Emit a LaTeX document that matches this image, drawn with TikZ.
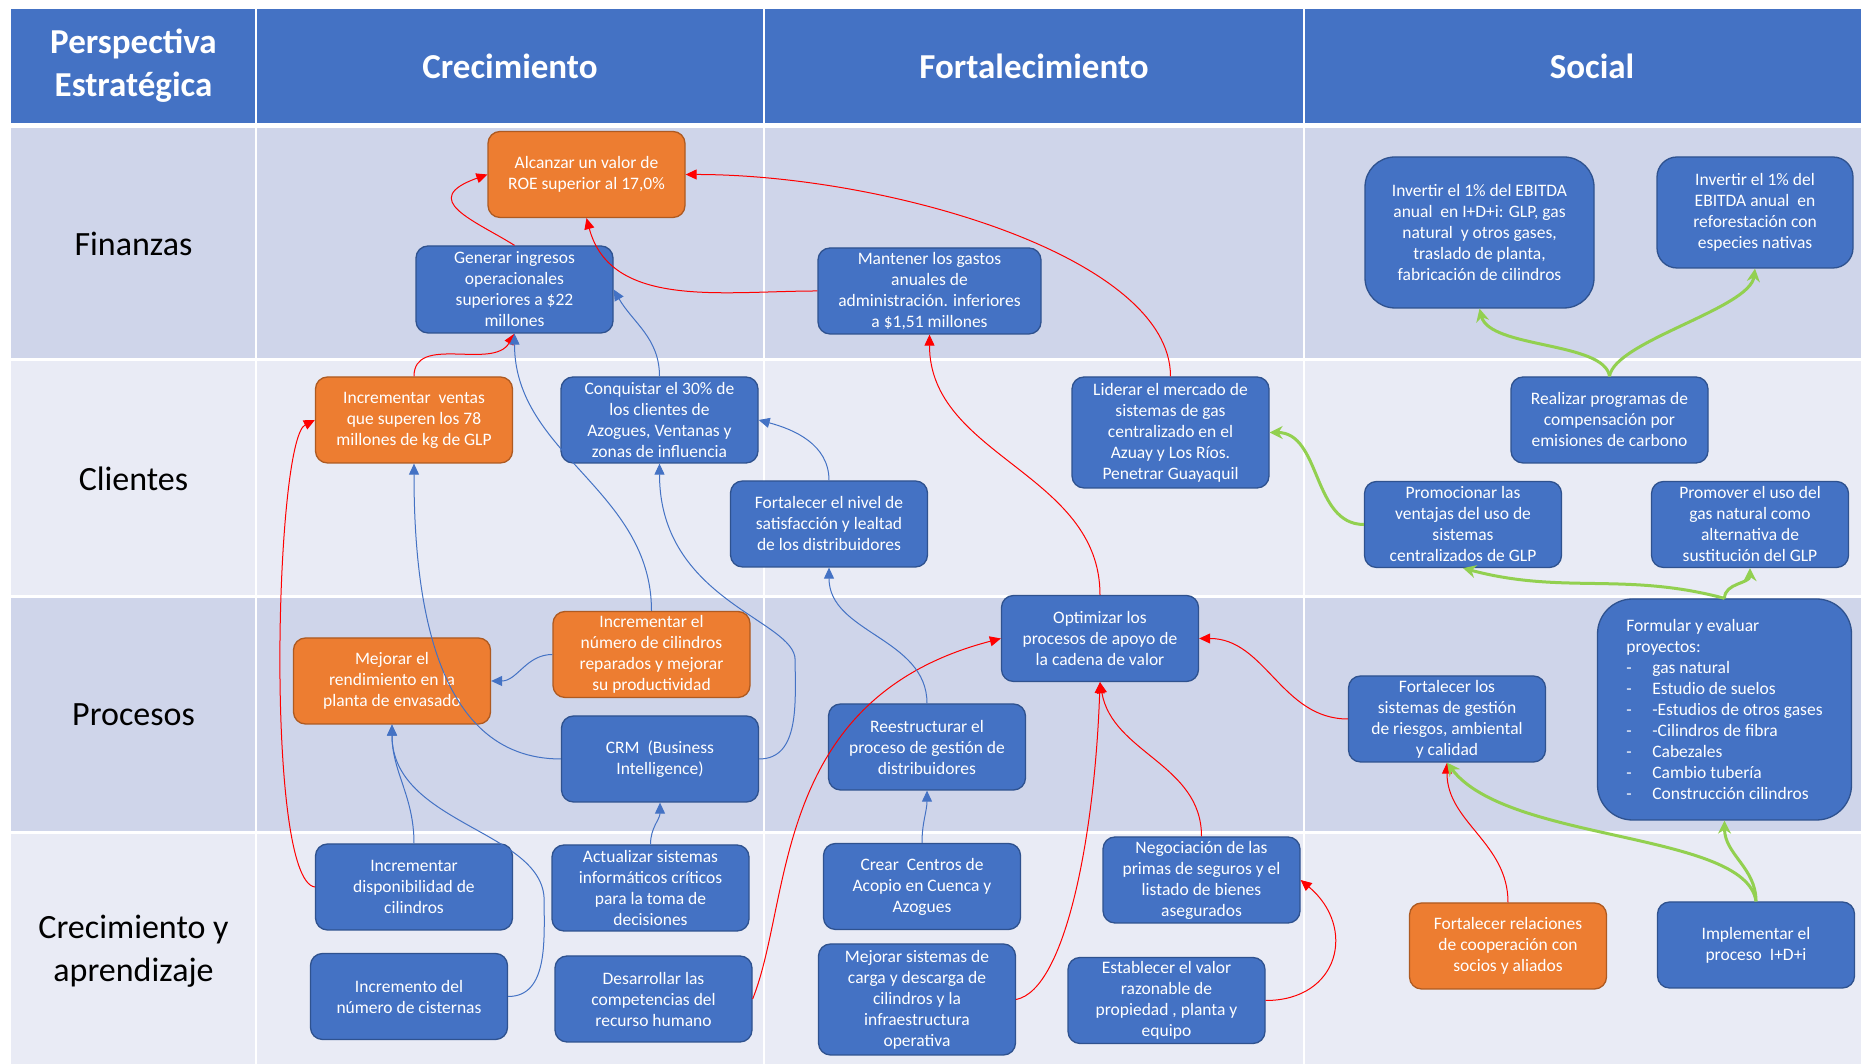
\documentclass[tikz,border=0pt]{standalone}
\usepackage{fontspec}
\setmainfont{Carlito}
\usepackage{tikz}
\usetikzlibrary{arrows.meta, shapes, backgrounds}

\definecolor{headblue}{HTML}{4472C4}
\definecolor{rowdark}{HTML}{CFD5EA}
\definecolor{rowlight}{HTML}{E9EBF5}
\definecolor{boxblue}{HTML}{4472C4}
\definecolor{boxline}{HTML}{2F528F}
\definecolor{boxorange}{HTML}{ED7D31}
\definecolor{orangeline}{HTML}{AE5A21}
\definecolor{linkred}{HTML}{FF0000}
\definecolor{linkblue}{HTML}{4472C4}
\definecolor{linkgreen}{HTML}{92D050}

\begin{document}
\begin{tikzpicture}[x=1pt, y=1pt,
    goal/.style={draw=boxline, fill=boxblue, line width=1.3pt, rounded corners=12pt,
      text=white, align=center, inner sep=0pt, minimum width=197pt, minimum height=86pt,
      font=\fontsize{17.5}{21}\selectfont},
    hot/.style={goal, fill=boxorange, draw=orangeline},
    head/.style={text=white, align=center, font=\fontsize{35}{43}\selectfont\bfseries},
    persp/.style={align=center, font=\fontsize{34}{43}\selectfont},
    red link/.style={linkred, line width=1pt, -{Triangle[length=11pt,width=10pt]}},
    blue link/.style={linkblue, line width=1pt, -{Triangle[length=11pt,width=10pt]}},
    green link/.style={linkgreen, line width=3pt, -{Stealth[length=13pt,width=13pt]}}]

  % table
  \useasboundingbox (0,0) rectangle (1861,1064);
  \fill[white] (0,0) rectangle (1861,1064);
  \fill[headblue] (11,941) rectangle (1861,1055);
  \fill[rowdark]  (11,704) rectangle (1861,936);
  \fill[rowlight] (11,467) rectangle (1861,704);
  \fill[rowdark]  (11,231) rectangle (1861,467);
  \fill[rowlight] (11,0)   rectangle (1861,231);
  \draw[white, line width=3pt] (11,704) -- (1861,704) (11,467) -- (1861,467) (11,231) -- (1861,231);
  \foreach \x in {256,764,1304}
    \draw[white, line width=2.5pt] (\x,0) -- (\x,1055);

  \node[head]  (h_0) at (133.5,998) {Perspectiva\\Estratégica};
  \node[head]  (h_1) at (510,998)   {Crecimiento};
  \node[head]  (h_2) at (1034,998)  {Fortalecimiento};
  \node[head]  (h_3) at (1592,998)  {Social};
  \node[persp] (r_0) at (133.5,820)   {Finanzas};
  \node[persp] (r_1) at (133.5,585.5) {Clientes};
  \node[persp] (r_2) at (133.5,349)   {Procesos};
  \node[persp] (r_3) at (133.5,113)   {Crecimiento y\\aprendizaje};

  % finanzas
  \node[hot]  (f_0) at (586.5,889.5) {Alcanzar un valor de\\ROE superior al 17,0\%};
  \node[goal] (f_1) at (514.5,774.5) [minimum height=87pt] {Generar ingresos\\operacionales\\superiores a \$22\\millones};
  \node[goal] (f_2) at (929.5,773) [minimum width=223pt] {Mantener los gastos\\anuales de\\administración. inferiores\\a \$1,51 millones};
  \node[goal] (f_3) at (1479.5,831.5) [minimum width=229pt, minimum height=151pt, rounded corners=30pt] {Invertir el 1\% del EBITDA\\anual~ en I+D+i: GLP, gas\\natural~ y otros gases,\\traslado de planta,\\fabricación de cilindros};
  \node[goal] (f_4) at (1755,851.5) [minimum width=196pt, minimum height=111pt, rounded corners=20pt] {Invertir el 1\% del\\EBITDA anual~ en\\reforestación con\\especies nativas};

  % clientes
  \node[hot]  (c_0) at (414,644)     {Incrementar~ ventas\\que superen los 78\\millones de kg de GLP};
  \node[goal] (c_1) at (659.5,644)   {Conquistar el 30\% de\\los clientes de\\Azogues, Ventanas y\\zonas de influencia};
  \node[goal] (c_2) at (829,540)     {Fortalecer el nivel de\\satisfacción y lealtad\\de los distribuidores};
  \node[goal] (c_3) at (1170.5,631.5) [minimum height=111pt] {Liderar el mercado de\\sistemas de gas\\centralizado en el\\Azuay y Los Ríos.\\Penetrar Guayaquil};
  \node[goal] (c_4) at (1609.5,644)  {Realizar programas de\\compensación por\\emisiones de carbono};
  \node[goal] (c_5) at (1463,539.5)  {Promocionar las\\ventajas del uso de\\sistemas\\centralizados de GLP};
  \node[goal] (c_6) at (1750,539.5)  {Promover el uso del\\gas natural como\\alternativa de\\sustitución del GLP};

  % procesos
  \node[hot]  (p_0) at (392,383)     {Mejorar el\\rendimiento en la\\planta de envasado};
  \node[hot]  (p_1) at (651.5,409.5) {Incrementar el\\número de cilindros\\reparados y mejorar\\su productividad};
  \node[goal] (p_2) at (660,305)     {CRM~ (Business\\Intelligence)};
  \node[goal] (p_3) at (927,317)     {Reestructurar el\\proceso de gestión de\\distribuidores};
  \node[goal] (p_4) at (1100,425.5)  {Optimizar los\\procesos de apoyo de\\la cadena de valor};
  \node[goal] (p_5) at (1447,345)    {Fortalecer los\\sistemas de gestión\\de riesgos, ambiental\\y calidad};
  \node[goal] (p_6) at (1724.5,354.5) [minimum width=254pt, minimum height=221pt, rounded corners=35pt, align=left]
    {Formular y evaluar\\proyectos:\\
     \makebox[26pt][l]{-}gas natural\\
     \makebox[26pt][l]{-}Estudio de suelos\\
     \makebox[26pt][l]{-}-Estudios de otros gases\\
     \makebox[26pt][l]{-}-Cilindros de fibra\\
     \makebox[26pt][l]{-}Cabezales\\
     \makebox[26pt][l]{-}Cambio tubería\\
     \makebox[26pt][l]{-}Construcción cilindros};

  % crecimiento y aprendizaje
  \node[goal] (a_0) at (414,177)     {Incrementar\\disponibilidad de\\cilindros};
  \node[goal] (a_1) at (409,67.5)    {Incremento del\\número de cisternas};
  \node[goal] (a_2) at (650.5,176)   {Actualizar sistemas\\informáticos críticos\\para la toma de\\decisiones};
  \node[goal] (a_3) at (653.5,65)    {Desarrollar las\\competencias del\\recurso humano};
  \node[goal] (a_4) at (922,177.5)   {Crear~ Centros de\\Acopio en Cuenca y\\Azogues};
  \node[goal] (a_5) at (917,64.5) [minimum height=111pt] {Mejorar sistemas de\\carga y descarga de\\cilindros y la\\infraestructura\\operativa};
  \node[goal] (a_6) at (1201.5,184)  {Negociación de las\\primas de seguros y el\\listado de bienes\\asegurados};
  \node[goal] (a_7) at (1166.5,63.5) {Establecer el valor\\razonable de\\propiedad , planta y\\equipo};
  \node[hot]  (a_8) at (1508,118)    {Fortalecer relaciones\\de cooperación con\\socios y aliados};
  \node[goal] (a_9) at (1756,119)    {Implementar el\\proceso~ I+D+i};

  % red links
  \path[red link]
    (f_2.west) edge[out=180, in=-75] (f_0.south)
    (p_4.north) edge[out=90, in=-90] (f_2.south)
    (c_0.north) edge[out=90, in=-120] (f_1.south)
    (a_6.north) edge[out=90, in=-80] (p_4.south)
    (a_7.east) edge[out=0, in=-40, looseness=1.5] (a_6.east)
    (p_5.west) edge[out=180, in=0] (p_4.east)
    (a_8.north) edge[out=90, in=-90] (p_5.south);
  \draw[red link] (f_1.north) .. controls +(-40,25) and +(-70,-25) .. (f_0.west);
  \draw[red link] (c_3.north) .. controls +(0,120) and +(200,0) .. (f_0.east);
  \draw[red link] (a_0.west) .. controls +(-50,7) and +(-40,-20) .. (c_0.west);
  \draw[red link] (a_3.east) .. controls +(40,100) and +(-230,-60) .. (p_4.west);
  \draw[red link] (a_5.east) .. controls +(50,10) and +(-5,-150) .. (p_4.south);

  % blue links
  \path[blue link]
    (c_1.north) edge[out=90, in=-60] (f_1.east)
    (p_1.north) edge[out=90, in=-90] (f_1.south)
    (p_2.west)  edge[out=180, in=-90] (c_0.south)
    (c_2.north) edge[out=90, in=-15] (c_1.east)
    (p_3.north) edge[out=90, in=-90] (c_2.south)
    (a_4.north) edge[out=90, in=-90] (p_3.south)
    (a_2.north) edge[out=90, in=-90] (p_2.south)
    (a_0.north) edge[out=90, in=-90] (p_0.south)
    (p_1.west)  edge[out=180, in=0] (p_0.east);
  \draw[blue link] (p_2.east) to[out=0, in=-90] ++(36,99) .. controls +(0,40) and +(0,-137) .. (c_1.south);
  \draw[blue link] (a_1.east) to[out=0, in=-90] ++(36,96) .. controls +(0,70) and +(0,-100) .. (p_0.south);

  % green links
  \path[green link]
    (c_5.west)  edge[out=180, in=0] (c_3.east)
    (p_6.north) edge[out=165, in=-15] (c_5.south)
    (p_6.north) edge[out=90, in=-90] (c_6.south)
    (a_9.north) edge[out=90, in=-90] (p_6.south);
  \draw[green link] (c_4.north) .. controls +(-5,35) and +(10,-40) .. (f_3.south);
  \draw[green link] (c_4.north) .. controls +(5,35) and +(-5,-40) .. (f_4.south);
  \draw[green link] (a_9.north) .. controls +(-10,70) and +(60,-80) .. (p_5.south);
\end{tikzpicture}
\end{document}
